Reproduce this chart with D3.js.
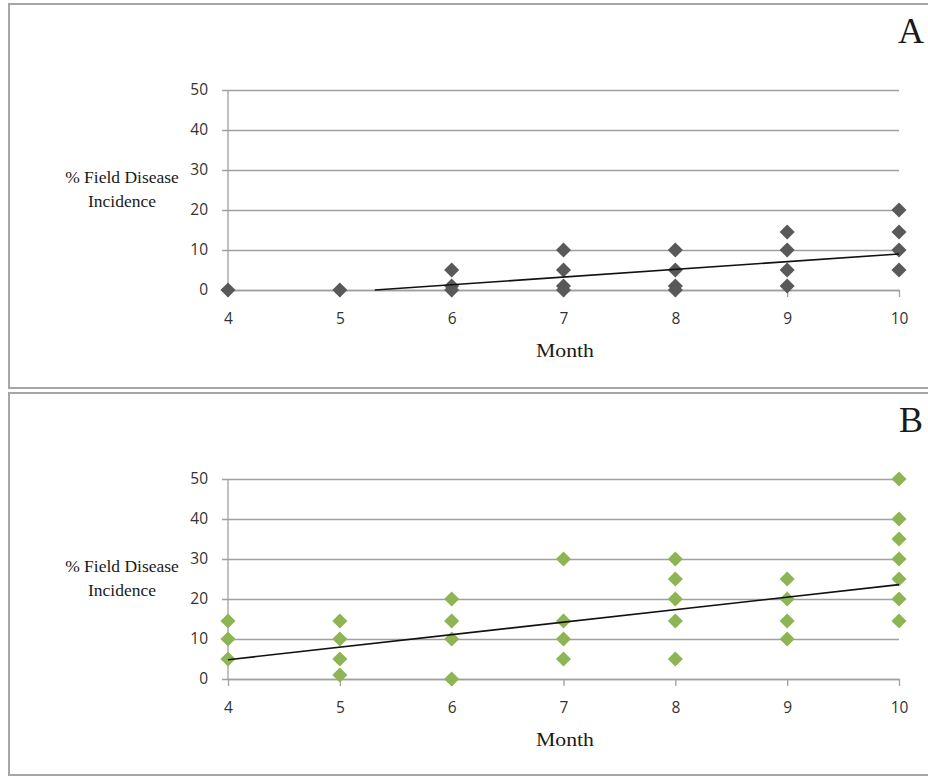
<!DOCTYPE html>
<html>
<head>
<meta charset="utf-8">
<script src="https://cdn.jsdelivr.net/npm/d3@7"></script>
<style>
  body { margin: 0; background: #fff; }
  svg { display: block; }
  .tick text { font-family: "Open Sans", "Liberation Sans", sans-serif; font-size: 15.5px; fill: #333; }
  .serif { font-family: "Liberation Serif", "DejaVu Serif", serif; fill: #1a1a1a; }
</style>
</head>
<body>
<div id="chart"></div>
<script>
// month categories and tick labels
var months = [4, 5, 6, 7, 8, 9, 10];
var yTicks = [0, 10, 20, 30, 40, 50];

// panel A: month of each point and its % field disease incidence
var monthA = [4, 5, 6, 6, 6, 7, 7, 7, 7, 8, 8, 8, 8, 9, 9, 9, 9, 10, 10, 10, 10];
var incA   = [0, 0, 5, 1, 0, 10, 5, 1, 0, 10, 5, 1, 0, 14.5, 10, 5, 1, 20, 14.5, 10, 5];

// panel B
var monthB = [4, 4, 4, 5, 5, 5, 5, 6, 6, 6, 6, 7, 7, 7, 7, 8, 8, 8, 8, 8, 9, 9, 9, 9, 10, 10, 10, 10, 10, 10, 10];
var incB   = [14.5, 10, 5, 14.5, 10, 5, 1, 20, 14.5, 10, 0, 30, 14.5, 10, 5, 30, 25, 20, 14.5, 5, 25, 20, 14.5, 10, 50, 40, 35, 30, 25, 20, 14.5];

// linear trendlines (slope, intercept)
var trendA = [1.92, -10.2];
var trendB = [3.13, -7.7];

var width = 928, height = 776;
var svg = d3.select("#chart").append("svg")
  .attr("width", width)
  .attr("height", height);

var x = d3.scaleLinear().domain([4, 10]).range([228, 899]);

function panel(top, bottom, letter, xs, ys, trend, color) {
  // frame
  svg.append("rect")
    .attr("x", 9).attr("y", top)
    .attr("width", 940).attr("height", bottom - top)
    .attr("fill", "none").attr("stroke", "#a6a6a6").attr("stroke-width", 2);

  var y0 = top + 286;
  var y = d3.scaleLinear().domain([0, 50]).range([y0, y0 - 200]);

  // gridlines + y ticks
  var gy = svg.append("g")
    .attr("transform", "translate(" + x(4) + ",0)")
    .call(d3.axisLeft(y).tickValues(yTicks).tickSize(-(x(10) - x(4))).tickSizeOuter(0).tickPadding(20));
  gy.select(".domain").remove();
  gy.selectAll(".tick line").attr("stroke", "#a0a0a0").attr("stroke-width", 1.3).attr("x1", -6);

  svg.append("line")
    .attr("x1", x(4)).attr("x2", x(4))
    .attr("y1", y(50)).attr("y2", y(0))
    .attr("stroke", "#a0a0a0").attr("stroke-width", 1.3);

  // x axis
  var gx = svg.append("g")
    .attr("transform", "translate(0," + y(0) + ")")
    .call(d3.axisBottom(x).tickValues(months).tickFormat(d3.format("d")).tickSize(7).tickSizeOuter(0).tickPadding(16));
  gx.select(".domain").attr("stroke", "#a0a0a0").attr("stroke-width", 1.3);
  gx.selectAll(".tick line").attr("stroke", "#a0a0a0").attr("stroke-width", 1.3);

  // points
  var diamond = d3.symbol().type(d3.symbolDiamond2).size(145);
  svg.append("g").selectAll("path")
    .data(xs.map(function(d, i) { return [d, ys[i]]; }))
    .enter().append("path")
    .attr("d", diamond)
    .attr("transform", function(d) { return "translate(" + x(d[0]) + "," + y(d[1]) + ")"; })
    .attr("fill", color);

  // trendline, clipped at zero
  var xStart = Math.max(4, -trend[1] / trend[0]);
  svg.append("line")
    .attr("x1", x(xStart)).attr("y1", y(trend[0] * xStart + trend[1]))
    .attr("x2", x(10)).attr("y2", y(trend[0] * 10 + trend[1]))
    .attr("stroke", "#111").attr("stroke-width", 1.6);

  // labels
  svg.append("text").attr("class", "serif")
    .attr("x", 122).attr("y", y(50) + 93)
    .attr("text-anchor", "middle").style("font-size", "17.5px")
    .text("% Field Disease");
  svg.append("text").attr("class", "serif")
    .attr("x", 122).attr("y", y(50) + 117)
    .attr("text-anchor", "middle").style("font-size", "17.5px")
    .text("Incidence");
  svg.append("text").attr("class", "serif")
    .attr("x", 565).attr("y", y(0) + 67)
    .attr("text-anchor", "middle").style("font-size", "19px")
    .attr("textLength", 58).attr("lengthAdjust", "spacingAndGlyphs")
    .text("Month");
  svg.append("text").attr("class", "serif")
    .attr("x", 911).attr("y", top + 39)
    .attr("text-anchor", "middle").style("font-size", "36px")
    .text(letter);
}

panel(4, 388, "A", monthA, incA, trendA, "#595959");
panel(393, 775, "B", monthB, incB, trendB, "#8db553");
</script>
</body>
</html>
